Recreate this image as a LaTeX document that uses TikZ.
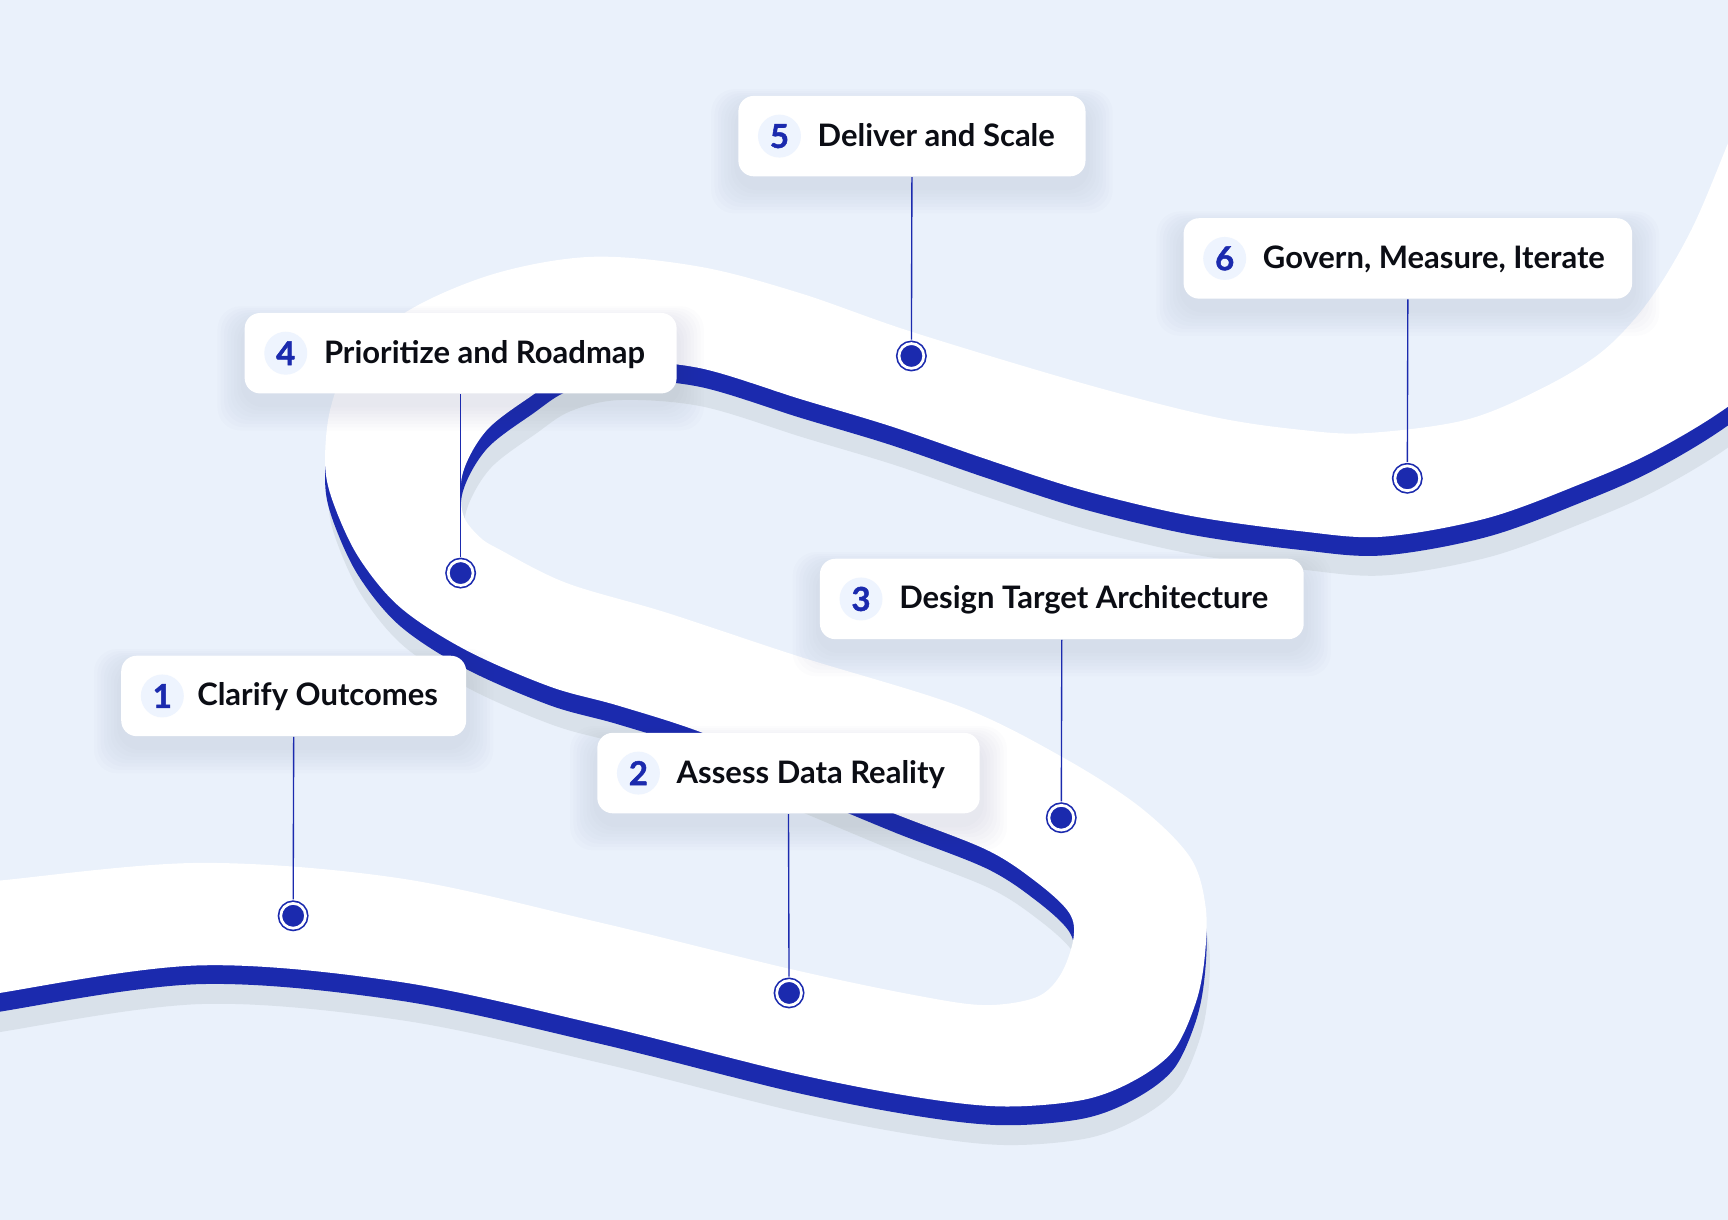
\documentclass[tikz,border=0pt]{standalone}
\usepackage{fontspec}
\setmainfont{Lato}
\newfontfamily\badgefont{Lato}[BoldFeatures={FakeBold=1.4}]
\usetikzlibrary{backgrounds}

\definecolor{pagebg}{HTML}{EAF1FB}
\definecolor{roadblue}{HTML}{1B2AAE}
\definecolor{roadshade}{HTML}{D9E1EA}
\definecolor{badgebg}{HTML}{EEF4FE}
\definecolor{inkdark}{HTML}{0B0D14}
\definecolor{cardshade}{HTML}{34406A}

% outline of the winding road (left edge out, right edge back)
\newcommand{\roadoutline}{
  plot[smooth, tension=0.55] coordinates {
    (-60,806) (0,799) (181,783) (363,797) (544,837) (716,879) (830,903)
    (893,912) (940,905) (962,885) (974,852) (970,828) (940,800) (895,771)
    (811,738) (720,700) (635,664) (560,640) (499,623) (423,590) (363,551)
    (325,505) (302,455) (295,420) (300,370) (320,325) (372,281) (450,248)
    (538,233) (635,242) (726,266) (827,301) (983,348) (1100,378) (1180,390)
    (1240,393) (1330,381) (1400,352) (1455,318) (1497,272) (1535,208)
    (1568,130) (1600,50)
  }
  -- (1800,0) -- (1800,320)
  -- plot[smooth, tension=0.55] coordinates {
    (1640,310) (1568,369) (1500,410) (1437,438) (1350,470) (1255,487)
    (1180,482) (1080,468) (983,445) (896,417) (809,387) (726,362) (635,334)
    (560,328) (515,338) (484,358) (442,390) (420,429) (420,466) (435,487)
    (454,499) (514,529) (605,556) (726,596) (871,641) (964,687) (1034,732)
    (1080,778) (1094,823) (1093,870) (1085,910) (1065,953) (1030,980)
    (983,998) (909,1004) (828,995) (716,973) (544,930) (363,891) (181,876)
    (0,901) (-60,915)
  }
  -- (-100,915) -- (-100,806) -- cycle
}

\begin{document}
\begin{tikzpicture}[
  x=0.1mm, y=-0.1mm,
  font=\fontsize{8}{9.6}\selectfont\bfseries,
  stagebox/.style={
    rectangle, rounded corners=4pt,
    fill=white, inner sep=0pt,
    minimum height=7.3mm
  },
  badge/.style={
    circle, fill=badgebg, inner sep=0pt,
    minimum size=3.9mm, text=roadblue,
    font=\badgefont\fontsize{8.5}{10}\selectfont\bfseries
  },
  stagetext/.style={anchor=base west, inner sep=0pt, text=inkdark},
  milestone/.style={
    circle, inner sep=0pt, minimum size=2.25mm,
    fill=roadblue, draw=roadblue, line width=0.15mm,
    double=white, double distance=0.25mm
  },
  leader/.style={roadblue, line width=0.35pt, shorten >=0.28mm},
  haze/.style={fill=cardshade, opacity=0.013, rounded corners=6pt}
]

\useasboundingbox (0,0) rectangle (1568,1107);

%% ── Road: shade, blue rim, white surface ────────────────────────────
\begin{scope}[on background layer]
  \fill[pagebg] (0,0) rectangle (1568,1107);
  \clip (0,0) rectangle (1568,1107);
  \fill[roadshade] [xshift=0.3mm, yshift=-3.5mm] \roadoutline;
  \fill[roadblue] [yshift=-1.7mm] \roadoutline;
  \fill[white] \roadoutline;
\end{scope}

%% ── Stage 1 ─────────────────────────────────────────────────────────
\node[stagebox, minimum width=31.3mm] (box1) at (266.5,631.5) {};
\node[badge] (num1) at ([xshift=3.8mm]box1.west) {1};
\node[stagetext] (txt1) at ([xshift=6.9mm,yshift=-0.9mm]box1.west) {Clarify Outcomes};
\node[milestone] (dot1) at (266,831) {};
\draw[leader] (box1.south) -- (dot1);

%% ── Stage 2 ─────────────────────────────────────────────────────────
\node[stagebox, minimum width=34.7mm] (box2) at (715.5,701.5) {};
\node[badge] (num2) at ([xshift=3.8mm]box2.west) {2};
\node[stagetext] (txt2) at ([xshift=7.2mm,yshift=-0.9mm]box2.west) {Assess Data Reality};
\node[milestone] (dot2) at (716,901) {};
\draw[leader] (box2.south) -- (dot2);

%% ── Stage 3 ─────────────────────────────────────────────────────────
\node[stagebox, minimum width=43.9mm] (box3) at (963.5,543.5) {};
\node[badge] (num3) at ([xshift=3.8mm]box3.west) {3};
\node[stagetext] (txt3) at ([xshift=7.2mm,yshift=-0.9mm]box3.west) {Design Target Architecture};
\node[milestone] (dot3) at (963,742) {};
\draw[leader] (box3.south) -- (dot3);

%% ── Stage 4 ─────────────────────────────────────────────────────────
\node[stagebox, minimum width=39.2mm] (box4) at (418,320.5) {};
\node[badge] (num4) at ([xshift=3.8mm]box4.west) {4};
\node[stagetext] (txt4) at ([xshift=7.2mm,yshift=-0.9mm]box4.west) {Prioritize and Roadmap};
\node[milestone] (dot4) at (418,520) {};
\draw[leader] (box4.south) -- (dot4);

%% ── Stage 5 ─────────────────────────────────────────────────────────
\node[stagebox, minimum width=31.5mm] (box5) at (827.5,123.5) {};
\node[badge] (num5) at ([xshift=3.8mm]box5.west) {5};
\node[stagetext] (txt5) at ([xshift=7.2mm,yshift=-0.9mm]box5.west) {Deliver and Scale};
\node[milestone] (dot5) at (827,323) {};
\draw[leader] (box5.south) -- (dot5);

%% ── Stage 6 ─────────────────────────────────────────────────────────
\node[stagebox, minimum width=40.7mm] (box6) at (1277.5,234.5) {};
\node[badge] (num6) at ([xshift=3.8mm]box6.west) {6};
\node[stagetext] (txt6) at ([xshift=7.2mm,yshift=-0.9mm]box6.west) {Govern, Measure, Iterate};
\node[milestone] (dot6) at (1277,434) {};
\draw[leader] (box6.south) -- (dot6);

%% ── Soft card shadows, under the cards but over the road ───────────
\begin{scope}[on background layer]
  \foreach \k in {1,...,6}
    \foreach \g in {1,...,8}
      \fill[haze]
        ([shift={({-\g*0.3mm},{-0.9mm-\g*0.3mm})}]box\k.south west)
        rectangle ([shift={({\g*0.3mm},{-0.9mm+\g*0.18mm})}]box\k.north east);
\end{scope}

\end{tikzpicture}
\end{document}
